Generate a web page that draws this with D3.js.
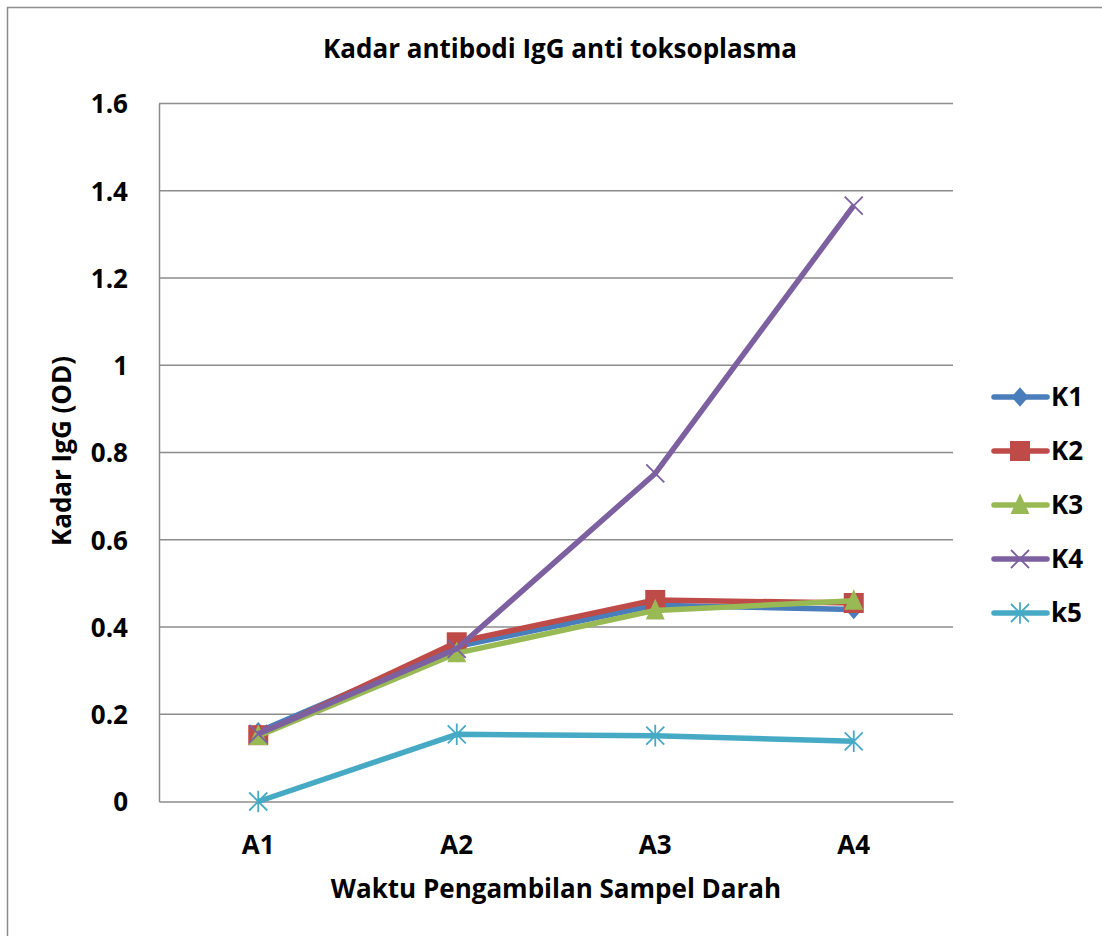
<!DOCTYPE html>
<html>
<head>
<meta charset="utf-8">
<script src="https://cdn.jsdelivr.net/npm/d3@7"></script>
<style>
  html, body { margin: 0; padding: 0; background: #fff; }
  svg { display: block; }
  text { font-family: "Open Sans", "Liberation Sans", sans-serif; font-weight: bold; fill: #000; }
</style>
</head>
<body>
<svg id="chart" width="1102" height="936"></svg>
<script>
// Sampling times (x categories)
const categories = ["A1", "A2", "A3", "A4"];

// IgG antibody levels (OD) per group
const seriesNames = ["K1", "K2", "K3", "K4", "k5"];
const k1Values = [0.16, 0.355, 0.45, 0.44];
const k2Values = [0.152, 0.365, 0.462, 0.455];
const k3Values = [0.15, 0.34, 0.438, 0.46];
const k4Values = [0.155, 0.35, 0.752, 1.366];
const k5Values = [0.0, 0.154, 0.151, 0.138];

const yTicks = [0, 0.2, 0.4, 0.6, 0.8, 1, 1.2, 1.4, 1.6];
const yTickLabels = ["0", "0.2", "0.4", "0.6", "0.8", "1", "1.2", "1.4", "1.6"];

const seriesColors = ["#4a7ebb", "#be4b48", "#98b954", "#7d60a0", "#46aac5"];
const seriesMarkers = ["diamond", "square", "triangle", "x", "star"];
const seriesValues = [k1Values, k2Values, k3Values, k4Values, k5Values];

const svg = d3.select("#chart");

// outer chart frame (right and bottom edges fall outside the view)
svg.append("rect")
  .attr("x", 7.5).attr("y", 7.5)
  .attr("width", 1200).attr("height", 1000)
  .attr("fill", "none").attr("stroke", "#8c8c8c").attr("stroke-width", 1.5);

const plot = { left: 159, top: 103.5, right: 953, bottom: 801.5 };

const x = d3.scaleBand().domain(categories).range([plot.left, plot.right]);
const y = d3.scaleLinear().domain([0, 1.6]).range([plot.bottom, plot.top]);
const cx = c => x(c) + x.bandwidth() / 2;

// horizontal gridlines
svg.append("g")
  .selectAll("line")
  .data(yTicks.filter(t => t > 0))
  .join("line")
  .attr("x1", plot.left).attr("x2", plot.right)
  .attr("y1", d => y(d)).attr("y2", d => y(d))
  .attr("stroke", "#8c8c8c").attr("stroke-width", 1.5);

// y axis
const yAxis = svg.append("g")
  .attr("transform", `translate(${plot.left},0)`)
  .call(d3.axisLeft(y).tickValues(yTicks)
    .tickFormat((d, i) => yTickLabels[i]).tickSize(0).tickPadding(31));
yAxis.select(".domain").attr("stroke", "#8c8c8c").attr("stroke-width", 1.5);
yAxis.selectAll("text").style("font-size", "26px").attr("dy", "0.36em");

// x axis
const xAxis = svg.append("g")
  .attr("transform", `translate(0,${plot.bottom})`)
  .call(d3.axisBottom(x).tickSize(0).tickPadding(0));
xAxis.select(".domain").attr("stroke", "#8c8c8c").attr("stroke-width", 1.5);
xAxis.selectAll("text").style("font-size", "26px").attr("y", 52).attr("dy", 0);

// titles
svg.append("text")
  .attr("x", 560).attr("y", 58)
  .attr("text-anchor", "middle")
  .style("font-size", "26px")
  .text("Kadar antibodi IgG anti toksoplasma");

svg.append("text")
  .attr("x", 556).attr("y", 898)
  .attr("text-anchor", "middle")
  .style("font-size", "26px")
  .text("Waktu Pengambilan Sampel Darah");

svg.append("text")
  .attr("transform", "translate(71,451) rotate(-90)")
  .attr("text-anchor", "middle")
  .style("font-size", "26px")
  .text("Kadar IgG (OD)");

// marker drawing helper
function drawMarker(g, type, color, px, py, s) {
  if (type === "diamond") {
    g.append("path")
      .attr("d", `M${px},${py - s * 1.15}L${px + s},${py}L${px},${py + s * 1.15}L${px - s},${py}Z`)
      .attr("fill", color);
  } else if (type === "square") {
    g.append("rect")
      .attr("x", px - s).attr("y", py - s).attr("width", 2 * s).attr("height", 2 * s)
      .attr("fill", color);
  } else if (type === "triangle") {
    g.append("path")
      .attr("d", `M${px},${py - s * 1.3}L${px + s * 1.05},${py + s * 1.0}L${px - s * 1.05},${py + s * 1.0}Z`)
      .attr("fill", color);
  } else if (type === "x") {
    g.append("path")
      .attr("d", `M${px - s},${py - s}L${px + s},${py + s}M${px - s},${py + s}L${px + s},${py - s}`)
      .attr("stroke", color).attr("stroke-width", 1.8).attr("fill", "none");
  } else if (type === "star") {
    g.append("path")
      .attr("d", `M${px - s},${py - s}L${px + s},${py + s}M${px - s},${py + s}L${px + s},${py - s}M${px},${py - s * 1.2}L${px},${py + s * 1.2}`)
      .attr("stroke", color).attr("stroke-width", 1.8).attr("fill", "none");
  }
}

const markerSize = [8.5, 10, 9, 9, 9];

const line = d3.line().x(d => cx(d.c)).y(d => y(d.v));

seriesNames.forEach((name, i) => {
  const pts = categories.map((c, j) => ({ c, v: seriesValues[i][j] }));
  const g = svg.append("g");
  g.append("path")
    .datum(pts)
    .attr("d", line)
    .attr("fill", "none")
    .attr("stroke", seriesColors[i])
    .attr("stroke-width", 5.5)
    .attr("stroke-linejoin", "round");
  pts.forEach(p => drawMarker(g, seriesMarkers[i], seriesColors[i], cx(p.c), y(p.v), markerSize[i]));
});

// legend
const legend = svg.append("g");
seriesNames.forEach((name, i) => {
  const ly = 397 + i * 54;
  const g = legend.append("g");
  g.append("line")
    .attr("x1", 994).attr("x2", 1047).attr("y1", ly).attr("y2", ly)
    .attr("stroke", seriesColors[i]).attr("stroke-width", 5.5).attr("stroke-linecap", "round");
  drawMarker(g, seriesMarkers[i], seriesColors[i], 1020, ly, markerSize[i]);
  g.append("text")
    .attr("x", 1051).attr("y", ly).attr("dy", "0.36em")
    .style("font-size", "26px")
    .text(name);
});
</script>
</body>
</html>
